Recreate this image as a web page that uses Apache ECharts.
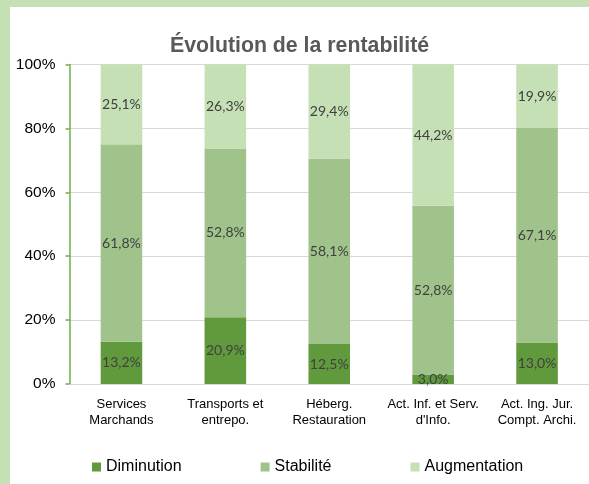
<!DOCTYPE html>
<html style="height: 100%">
   <head>
       <meta charset="utf-8">
   </head>
   <body style="height: 100%; margin: 0; background: #c5e0b4; overflow: hidden">
       <div id="container" style="position: absolute; left: 10px; top: 7px; width: 579px; height: 477px; background: #fff"></div>
       <script type="text/javascript" src="https://cdn.jsdelivr.net/npm/echarts@6/dist/echarts.min.js"></script>
       <script type="text/javascript">
var categories = ['Services\nMarchands', 'Transports et\nentrepo.', 'Héberg.\nRestauration', "Act. Inf. et Serv.\nd'Info.", 'Act. Ing. Jur.\nCompt. Archi.'];
var diminution = [13.2, 20.9, 12.5, 3.0, 13.0];
var stabilite = [61.8, 52.8, 58.1, 52.8, 67.1];
var augmentation = [25.1, 26.3, 29.4, 44.2, 19.9];
var yTicks = [0, 20, 40, 60, 80, 100];

var dom = document.getElementById("container");
var myChart = echarts.init(dom);
var option = null;

function pct(p) {
    return p.value.toFixed(1).replace('.', ',') + '%';
}

var labelStyle = {
    show: true,
    position: 'inside',
    formatter: pct,
    color: '#404040',
    fontFamily: 'Lato',
    fontSize: 14
};

option = {
    title: {
        text: 'Évolution de la rentabilité',
        left: 'center',
        top: 24,
        textStyle: {
            fontFamily: 'Liberation Sans',
            fontSize: 21.3,
            fontWeight: 'bold',
            color: '#595959'
        }
    },
    legend: {
        left: 82,
        top: 452,
        padding: 0,
        itemWidth: 9,
        itemHeight: 9,
        itemGap: 79,
        icon: 'rect',
        textStyle: {
            fontFamily: 'Liberation Sans',
            fontSize: 16,
            color: '#000'
        },
        data: ['Diminution', 'Stabilité', 'Augmentation']
    },
    grid: {
        left: 59.5,
        top: 57.5,
        right: -5.5,
        bottom: 100
    },
    xAxis: {
        type: 'category',
        data: categories,
        axisLine: { lineStyle: { color: '#d9d9d9', width: 1 } },
        axisTick: { show: false },
        axisLabel: {
            interval: 0,
            margin: 12,
            fontFamily: 'Liberation Sans',
            fontSize: 13,
            lineHeight: 16,
            color: '#000'
        }
    },
    yAxis: {
        type: 'value',
        min: yTicks[0],
        max: yTicks[yTicks.length - 1],
        interval: 20,
        axisLine: { show: true, lineStyle: { color: '#70ad47', width: 1.5 } },
        axisTick: { show: true, length: 4, lineStyle: { color: '#70ad47', width: 1.5 } },
        splitLine: { lineStyle: { color: '#d9d9d9', width: 1 } },
        axisLabel: {
            margin: 14,
            fontFamily: 'Liberation Sans',
            fontSize: 15.5,
            color: '#000',
            formatter: '{value}%'
        }
    },
    series: [
        {
            name: 'Diminution',
            type: 'bar',
            stack: 'total',
            barWidth: '40%',
            itemStyle: { color: '#609a3c' },
            label: labelStyle,
            data: diminution
        },
        {
            name: 'Stabilité',
            type: 'bar',
            stack: 'total',
            itemStyle: { color: '#a0c38b' },
            label: labelStyle,
            data: stabilite
        },
        {
            name: 'Augmentation',
            type: 'bar',
            stack: 'total',
            itemStyle: { color: '#c5e0b4' },
            label: labelStyle,
            data: augmentation
        }
    ]
};

if (option && typeof option === "object") {
    myChart.setOption(option, true);
}
       </script>
   </body>
</html>
